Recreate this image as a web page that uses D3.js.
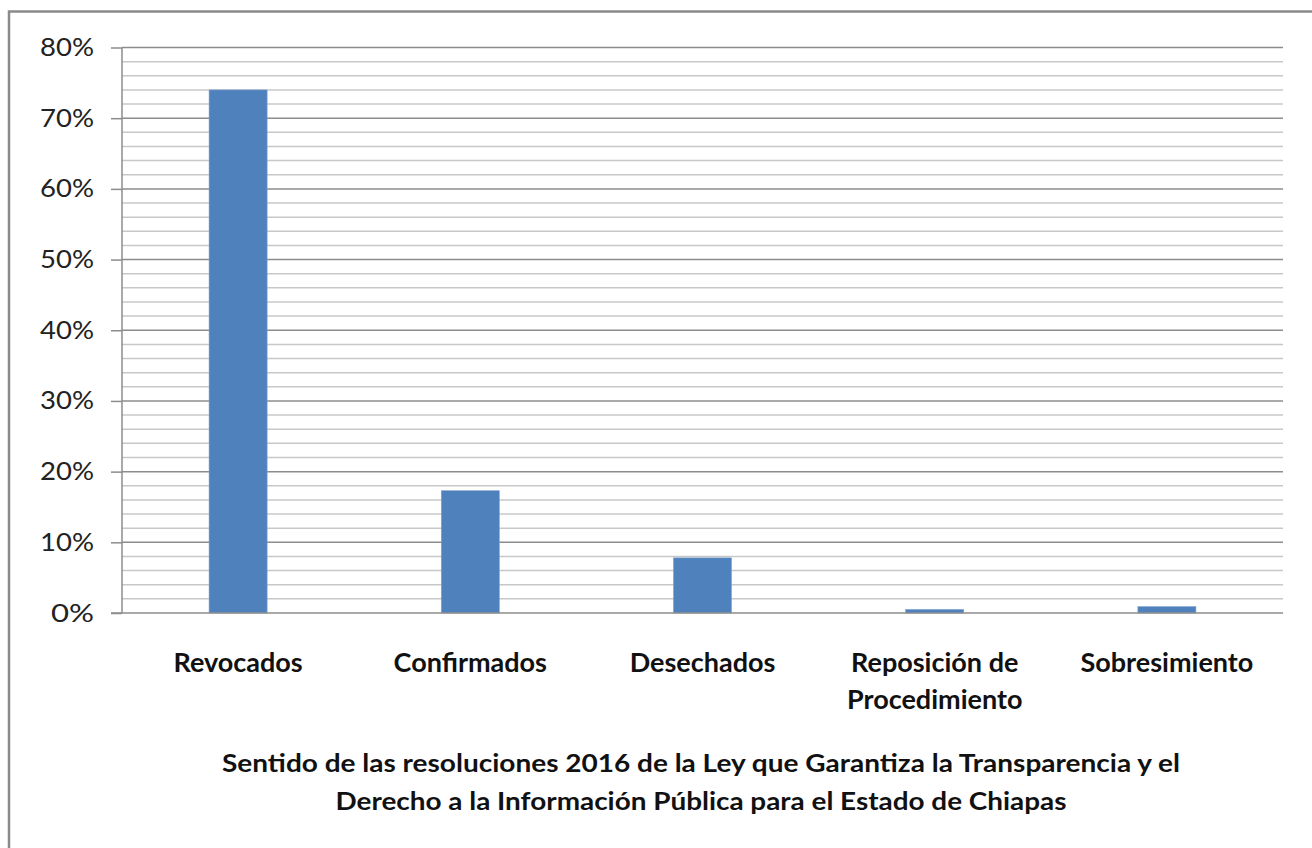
<!DOCTYPE html>
<html><head><meta charset="utf-8">
<script src="https://cdn.jsdelivr.net/npm/d3@7/dist/d3.min.js"></script>
<style>body{margin:0;background:#fff}svg{display:block}</style>
</head><body>
<script>
const categories = [["Revocados"],["Confirmados"],["Desechados"],["Reposición de","Procedimiento"],["Sobresimiento"]];
const values = [74.0, 17.3, 7.8, 0.5, 0.9];
const yTicks = [0,10,20,30,40,50,60,70,80];
const titleLines = ["Sentido de las resoluciones 2016 de la Ley que Garantiza la Transparencia y el","Derecho  a la Información Pública para el Estado de Chiapas"];

const W=1312,H=848;
const svg=d3.select("body").append("svg").attr("width",W).attr("height",H);
svg.append("rect").attr("width",W).attr("height",H).attr("fill","#fff");
// outer frame
svg.append("path").attr("d","M9,848 V11.5 H1312").attr("fill","none").attr("stroke","#8a8a8a").attr("stroke-width",2.5);

const x0=122,x1=1283,yTop=47.5,yBot=613;
const x=d3.scaleBand().domain(d3.range(categories.length)).range([x0,x1]).paddingInner(0.75).paddingOuter(0.375);
const y=d3.scaleLinear().domain([0,80]).range([yBot,yTop]);
const font="Lato, 'Open Sans', sans-serif";

// minor grid
const minor=d3.range(0,81,2).filter(v=>v%10!==0);
svg.append("g").selectAll("line").data(minor).join("line")
 .attr("x1",x0).attr("x2",x1).attr("y1",d=>y(d)).attr("y2",d=>y(d))
 .attr("stroke","#c8c8c8").attr("stroke-width",1.5);
// major grid
svg.append("g").selectAll("line").data(yTicks.filter(v=>v>0)).join("line")
 .attr("x1",x0).attr("x2",x1).attr("y1",d=>y(d)).attr("y2",d=>y(d))
 .attr("stroke","#8c8c8c").attr("stroke-width",1.5);

// bars
svg.append("g").selectAll("rect").data(values).join("rect")
 .attr("x",(d,i)=>x(i)).attr("width",x.bandwidth())
 .attr("y",d=>y(d)).attr("height",d=>yBot-y(d))
 .attr("fill","#4f81bd").attr("stroke","#7fa3d0").attr("stroke-width",0.6);

// y axis
const ya=svg.append("g").attr("transform",`translate(${x0},0)`)
 .call(d3.axisLeft(y).tickValues(yTicks).tickSize(11).tickPadding(17).tickFormat(d=>d+"%"));
ya.select(".domain").attr("stroke","#8c8c8c").attr("stroke-width",1.5).attr("d",`M0,${yTop}V${yBot}`);
ya.selectAll(".tick line").attr("stroke","#8c8c8c").attr("stroke-width",1.5);
ya.selectAll(".tick text").attr("font-family",font).attr("font-size",25).attr("fill","#222")
 .attr("textLength",d=>d===0?43:54).attr("lengthAdjust","spacingAndGlyphs");
// x axis baseline
svg.append("line").attr("x1",x0-11).attr("x2",x1).attr("y1",yBot).attr("y2",yBot).attr("stroke","#8c8c8c").attr("stroke-width",1.5);

// category labels
const cl=svg.append("g").selectAll("text").data(categories).join("text")
 .attr("x",(d,i)=>x(i)+x.bandwidth()/2).attr("y",672)
 .attr("text-anchor","middle").attr("font-family",font).attr("font-weight","bold").attr("font-size",27).attr("fill","#111");
cl.selectAll("tspan").data(d=>d).join("tspan").attr("x",function(){return this.parentNode.getAttribute("x");})
 .attr("dy",(d,i)=>i?37:0).text(d=>d);

// title
svg.append("g").selectAll("text").data(titleLines).join("text")
 .attr("x",701).attr("y",(d,i)=>772+i*38).attr("text-anchor","middle")
 .attr("font-family",font).attr("font-weight","bold").attr("font-size",25).attr("fill","#111")
 .attr("textLength",(d,i)=>i?731:958).attr("lengthAdjust","spacingAndGlyphs")
 .text(d=>d);
</script>
</body></html>
